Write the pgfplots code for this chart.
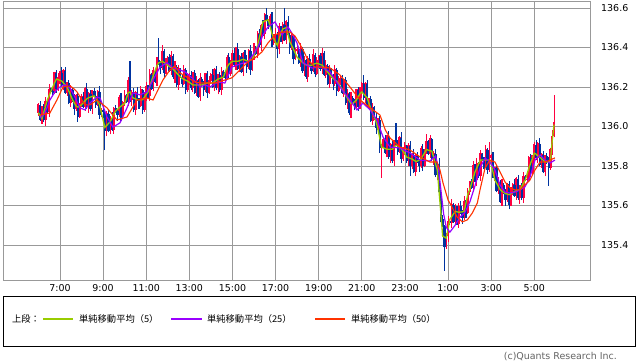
\documentclass[border=0pt]{standalone}
\usepackage{fontspec}
\setmainfont{DejaVu Sans}
\newfontfamily\cjk{Noto Sans CJK JP}
\usepackage{pgfplots}
\pgfplotsset{compat=1.18}
\usepackage{pgfplotstable}

\definecolor{barblue}{HTML}{0033A0}
\definecolor{barred}{HTML}{FF0040}
\definecolor{mafive}{HTML}{99CC00}
\definecolor{matwentyfive}{HTML}{9900FF}
\definecolor{mafifty}{HTML}{FF3300}
\definecolor{gridgray}{HTML}{999999}
\definecolor{copygray}{HTML}{646464}

\pgfplotstableread{
i o h l c m
0 136.070 136.120 136.055 136.110 136.070
1 136.110 136.130 136.030 136.035 136.055
2 136.035 136.105 136.015 136.100 136.040
3 136.100 136.115 136.022 136.032 136.072
4 136.032 136.148 136.002 136.123 136.103
5 136.123 136.133 136.065 136.075 136.135
6 136.075 136.217 136.050 136.187 136.157
7 136.187 136.197 136.174 136.179 136.179
8 136.179 136.199 136.155 136.170 136.200
9 136.170 136.275 136.165 136.270 136.220
10 136.270 136.285 136.170 136.190 136.240
11 136.190 136.272 136.180 136.247 136.237
12 136.247 136.283 136.217 136.273 136.233
13 136.273 136.303 136.200 136.210 136.230
14 136.210 136.290 136.185 136.280 136.220
15 136.280 136.300 136.165 136.170 136.210
16 136.170 136.225 136.155 136.220 136.200
17 136.220 136.235 136.113 136.118 136.178
18 136.118 136.212 136.098 136.187 136.157
19 136.187 136.197 136.125 136.135 136.135
20 136.135 136.165 136.059 136.089 136.119
21 136.089 136.163 136.079 136.153 136.103
22 136.153 136.173 136.023 136.048 136.098
23 136.048 136.119 136.043 136.114 136.104
24 136.114 136.165 136.099 136.150 136.110
25 136.150 136.175 136.095 136.100 136.120
26 136.100 136.200 136.080 136.190 136.130
27 136.190 136.220 136.090 136.100 136.140
28 136.100 136.176 136.070 136.166 136.146
29 136.166 136.186 136.079 136.089 136.149
30 136.089 136.187 136.064 136.182 136.152
31 136.182 136.197 136.150 136.155 136.155
32 136.155 136.180 136.095 136.110 136.140
33 136.110 136.185 136.105 136.175 136.125
34 136.175 136.205 136.040 136.060 136.110
35 136.060 136.092 136.050 136.082 136.072
36 136.082 136.102 136.043 136.073 136.033
37 136.073 136.078 135.880 135.975 135.995
38 135.975 136.080 135.950 136.065 136.005
39 136.065 136.090 135.970 135.975 136.015
40 135.975 136.055 135.960 136.045 136.025
41 136.045 136.075 135.978 135.983 136.043
42 135.983 136.101 135.963 136.091 136.061
43 136.091 136.111 136.068 136.078 136.078
44 136.078 136.083 136.027 136.057 136.087
45 136.057 136.160 136.047 136.145 136.095
46 136.145 136.170 136.028 136.053 136.103
47 136.053 136.131 136.048 136.121 136.111
48 136.121 136.185 136.106 136.155 136.115
49 136.155 136.165 136.118 136.123 136.143
50 136.123 136.251 136.103 136.231 136.171
51 136.231 136.330 136.125 136.135 136.175
52 136.135 136.185 136.105 136.170 136.150
53 136.170 136.195 136.073 136.083 136.143
54 136.083 136.180 136.058 136.170 136.140
55 136.170 136.200 136.131 136.136 136.136
56 136.136 136.146 136.090 136.105 136.135
57 136.105 136.205 136.100 136.185 136.135
58 136.185 136.190 136.065 136.085 136.135
59 136.085 136.173 136.075 136.158 136.148
60 136.158 136.227 136.128 136.202 136.162
61 136.202 136.212 136.145 136.155 136.175
62 136.155 136.293 136.130 136.263 136.203
63 136.263 136.273 136.187 136.192 136.232
64 136.192 136.300 136.177 136.280 136.260
65 136.280 136.285 136.219 136.224 136.284
66 136.224 136.353 136.204 136.338 136.308
67 136.338 136.450 136.312 136.322 136.322
68 136.322 136.332 136.266 136.296 136.326
69 136.296 136.410 136.286 136.380 136.330
70 136.380 136.390 136.248 136.273 136.323
71 136.273 136.347 136.268 136.327 136.317
72 136.327 136.355 136.312 136.350 136.310
73 136.350 136.365 136.278 136.283 136.303
74 136.283 136.382 136.263 136.357 136.297
75 136.357 136.367 136.240 136.250 136.290
76 136.250 136.330 136.220 136.300 136.280
77 136.300 136.310 136.200 136.210 136.270
78 136.210 136.310 136.185 136.290 136.260
79 136.290 136.295 136.247 136.252 136.252
80 136.252 136.267 136.199 136.214 136.244
81 136.214 136.313 136.209 136.288 136.238
82 136.288 136.298 136.164 136.184 136.234
83 136.184 136.270 136.174 136.240 136.230
84 136.240 136.273 136.210 136.263 136.223
85 136.263 136.283 136.187 136.197 136.217
86 136.197 136.275 136.172 136.270 136.210
87 136.270 136.285 136.165 136.170 136.210
88 136.170 136.255 136.155 136.230 136.210
89 136.230 136.240 136.145 136.150 136.210
90 136.150 136.270 136.130 136.240 136.210
91 136.240 136.250 136.200 136.210 136.210
92 136.210 136.230 136.153 136.183 136.213
93 136.183 136.272 136.173 136.267 136.217
94 136.267 136.282 136.145 136.170 136.220
95 136.170 136.255 136.165 136.230 136.220
96 136.230 136.270 136.215 136.260 136.220
97 136.260 136.290 136.195 136.200 136.220
98 136.200 136.297 136.180 136.287 136.227
99 136.287 136.307 136.183 136.193 136.233
100 136.193 136.265 136.163 136.260 136.240
101 136.260 136.275 136.173 136.183 136.243
102 136.183 136.302 136.158 136.277 136.247
103 136.277 136.287 136.245 136.250 136.250
104 136.250 136.280 136.230 136.245 136.275
105 136.245 136.360 136.240 136.350 136.300
106 136.350 136.370 136.245 136.265 136.315
107 136.265 136.338 136.255 136.333 136.323
108 136.333 136.385 136.303 136.370 136.330
109 136.370 136.395 136.300 136.310 136.330
110 136.310 136.400 136.285 136.390 136.330
111 136.390 136.420 136.285 136.290 136.330
112 136.290 136.363 136.275 136.353 136.333
113 136.353 136.373 136.272 136.277 136.337
114 136.277 136.375 136.257 136.370 136.340
115 136.370 136.385 136.326 136.336 136.336
116 136.336 136.361 136.272 136.302 136.332
117 136.302 136.393 136.292 136.383 136.333
118 136.383 136.413 136.262 136.287 136.337
119 136.287 136.360 136.282 136.350 136.340
120 136.350 136.420 136.335 136.400 136.360
121 136.400 136.405 136.360 136.365 136.385
122 136.365 136.485 136.345 136.470 136.410
123 136.470 136.495 136.400 136.410 136.450
124 136.410 136.520 136.380 136.510 136.490
125 136.510 136.540 136.460 136.470 136.530
126 136.470 136.573 136.445 136.563 136.533
127 136.563 136.600 136.532 136.537 136.537
128 136.537 136.542 136.495 136.510 136.540
129 136.510 136.570 136.505 136.555 136.505
130 136.555 136.580 136.400 136.420 136.470
131 136.420 136.466 136.410 136.456 136.446
132 136.456 136.496 136.426 136.466 136.426
133 136.466 136.476 136.345 136.390 136.410
134 136.390 136.522 136.365 136.502 136.442
135 136.502 136.507 136.429 136.434 136.474
136 136.434 136.528 136.419 136.513 136.493
137 136.513 136.600 136.432 136.437 136.497
138 136.437 136.540 136.417 136.530 136.500
139 136.530 136.560 136.453 136.463 136.463
140 136.463 136.473 136.367 136.397 136.427
141 136.397 136.480 136.387 136.460 136.410
142 136.460 136.465 136.315 136.340 136.390
143 136.340 136.395 136.335 136.380 136.370
144 136.380 136.415 136.365 136.390 136.350
145 136.390 136.400 136.317 136.322 136.342
146 136.322 136.424 136.302 136.394 136.334
147 136.394 136.404 136.273 136.283 136.323
148 136.283 136.357 136.253 136.337 136.317
149 136.337 136.342 136.241 136.251 136.311
150 136.251 136.355 136.226 136.340 136.310
151 136.340 136.365 136.305 136.310 136.310
152 136.310 136.320 136.265 136.280 136.310
153 136.280 136.394 136.275 136.364 136.314
154 136.364 136.374 136.248 136.268 136.318
155 136.268 136.350 136.258 136.330 136.320
156 136.330 136.362 136.300 136.357 136.317
157 136.357 136.372 136.283 136.293 136.313
158 136.293 136.395 136.268 136.370 136.310
159 136.370 136.380 136.253 136.258 136.298
160 136.258 136.336 136.243 136.306 136.286
161 136.306 136.316 136.210 136.215 136.275
162 136.215 136.313 136.195 136.293 136.263
163 136.293 136.298 136.243 136.253 136.253
164 136.253 136.268 136.183 136.213 136.243
165 136.213 136.310 136.203 136.285 136.235
166 136.285 136.295 136.155 136.180 136.230
167 136.180 136.257 136.175 136.227 136.217
168 136.227 136.253 136.212 136.243 136.203
169 136.243 136.263 136.165 136.170 136.190
170 136.170 136.239 136.150 136.234 136.174
171 136.234 136.249 136.108 136.118 136.158
172 136.118 136.188 136.088 136.163 136.143
173 136.163 136.173 136.060 136.070 136.130
174 136.070 136.176 136.045 136.146 136.116
175 136.146 136.156 136.112 136.117 136.117
176 136.117 136.137 136.081 136.096 136.126
177 136.096 136.189 136.091 136.184 136.134
178 136.184 136.199 136.080 136.100 136.150
179 136.100 136.201 136.090 136.176 136.166
180 136.176 136.225 136.146 136.215 136.175
181 136.215 136.260 136.135 136.145 136.165
182 136.145 136.225 136.120 136.215 136.155
183 136.215 136.235 136.100 136.105 136.145
184 136.105 136.142 136.090 136.137 136.117
185 136.137 136.152 136.024 136.029 136.089
186 136.029 136.121 136.009 136.096 136.066
187 136.096 136.106 136.035 136.045 136.045
188 136.045 136.075 135.963 135.993 136.023
189 135.993 136.045 135.983 136.035 135.985
190 136.035 136.055 135.865 135.890 135.940
191 135.890 135.910 135.740 135.905 135.895
192 135.905 135.947 135.890 135.932 135.892
193 135.932 135.957 135.863 135.868 135.888
194 135.868 135.955 135.848 135.945 135.885
195 135.945 135.975 135.835 135.845 135.885
196 135.845 135.915 135.815 135.905 135.885
197 135.905 135.925 135.815 135.825 135.885
198 135.825 135.930 135.800 135.925 135.895
199 135.925 136.020 135.900 135.905 135.905
200 135.905 135.930 135.857 135.872 135.902
201 135.872 135.954 135.867 135.944 135.894
202 135.944 135.974 135.816 135.836 135.886
203 135.836 135.895 135.826 135.885 135.875
204 135.885 135.920 135.855 135.900 135.860
205 135.900 135.905 135.815 135.825 135.845
206 135.825 135.917 135.800 135.902 135.842
207 135.902 135.927 135.750 135.798 135.838
208 135.798 135.865 135.783 135.855 135.835
209 135.855 135.885 135.764 135.769 135.829
210 135.769 135.863 135.749 135.853 135.823
211 135.853 135.873 135.815 135.825 135.825
212 135.825 135.830 135.770 135.800 135.830
213 135.800 135.900 135.790 135.885 135.835
214 135.885 135.910 135.777 135.802 135.852
215 135.802 135.888 135.797 135.878 135.868
216 135.878 135.960 135.863 135.924 135.884
217 135.924 135.934 135.855 135.860 135.880
218 135.860 135.957 135.840 135.937 135.877
219 135.937 135.942 135.825 135.835 135.875
220 135.835 135.878 135.805 135.863 135.843
221 135.863 135.888 135.742 135.752 135.812
222 135.752 135.820 135.727 135.810 135.780
223 135.810 135.840 135.665 135.670 135.670
224 135.670 135.680 135.515 135.530 135.560
225 135.530 135.550 135.490 135.495 135.445
226 135.495 135.500 135.270 135.390 135.440
227 135.390 135.460 135.380 135.445 135.435
228 135.445 135.545 135.415 135.520 135.480
229 135.520 135.530 135.500 135.510 135.530
230 135.510 135.633 135.485 135.603 135.543
231 135.603 135.613 135.512 135.517 135.557
232 135.517 135.610 135.502 135.590 135.570
233 135.590 135.595 135.503 135.508 135.568
234 135.508 135.611 135.488 135.596 135.566
235 135.596 135.621 135.557 135.567 135.567
236 135.567 135.577 135.508 135.538 135.568
237 135.538 135.650 135.528 135.620 135.570
238 135.620 135.630 135.539 135.564 135.614
239 135.564 135.688 135.559 135.668 135.658
240 135.668 135.725 135.653 135.720 135.680
241 135.720 135.735 135.685 135.690 135.710
242 135.690 135.825 135.670 135.800 135.740
243 135.800 135.810 135.720 135.730 135.770
244 135.730 135.840 135.700 135.810 135.790
245 135.810 135.820 135.740 135.750 135.810
246 135.750 135.880 135.725 135.860 135.830
247 135.860 135.865 135.825 135.830 135.830
248 135.830 135.845 135.785 135.800 135.830
249 135.800 135.905 135.795 135.880 135.830
250 135.880 135.890 135.760 135.780 135.830
251 135.780 135.920 135.770 135.840 135.830
252 135.840 135.860 135.810 135.850 135.810
253 135.850 135.870 135.740 135.750 135.770
254 135.750 135.795 135.725 135.790 135.730
255 135.790 135.805 135.668 135.673 135.713
256 135.673 135.742 135.658 135.717 135.697
257 135.717 135.727 135.615 135.620 135.680
258 135.620 135.732 135.600 135.702 135.672
259 135.702 135.712 135.656 135.666 135.666
260 135.666 135.686 135.600 135.630 135.660
261 135.630 135.713 135.620 135.708 135.658
262 135.708 135.723 135.580 135.605 135.655
263 135.605 135.695 135.600 135.670 135.660
264 135.670 135.715 135.655 135.705 135.665
265 135.705 135.735 135.645 135.650 135.670
266 135.650 135.745 135.630 135.735 135.675
267 135.735 135.755 135.628 135.638 135.678
268 135.638 135.705 135.608 135.700 135.680
269 135.700 135.715 135.627 135.637 135.697
270 135.637 135.768 135.612 135.743 135.713
271 135.743 135.753 135.725 135.730 135.730
272 135.730 135.760 135.715 135.730 135.760
273 135.730 135.850 135.725 135.840 135.790
274 135.840 135.860 135.745 135.765 135.815
275 135.765 135.855 135.755 135.850 135.840
276 135.850 135.920 135.820 135.905 135.865
277 135.905 135.930 135.830 135.840 135.860
278 135.840 135.920 135.815 135.910 135.850
279 135.910 135.940 135.800 135.805 135.845
280 135.805 135.867 135.790 135.857 135.837
281 135.857 135.877 135.764 135.769 135.829
282 135.769 135.855 135.749 135.850 135.820
283 135.850 135.865 135.810 135.820 135.820
284 135.820 135.845 135.700 135.790 135.820
285 135.790 135.890 135.780 135.880 135.830
286 135.880 135.980 135.855 135.950 135.930
287 135.950 136.160 135.945 136.020 136.010
}\bars

\pgfplotsset{
  candle/.style 2 args={draw=none, no markers,
    error bars/.cd, y dir=plus, y explicit, error mark=none,
    error bar style={draw=#1, solid, line width=#2}},
}

\begin{document}
\begin{tikzpicture}
\useasboundingbox[fill=white] (-3bp,-82bp) rectangle (635bp,280bp);
\begin{axis}[
  at={(0,0)}, anchor=south west,
  scale only axis, width=587bp, height=279bp,
  xmin=-19.7, xmax=307, ymin=135.223, ymax=136.635,
  axis line style={gridgray, line width=0.8bp},
  grid=major, grid style={gridgray, line width=0.8bp},
  major tick length=0pt,
  xtick={12,36,60,84,108,132,156,180,204,228,252,276},
  xticklabels={7:00,9:00,11:00,13:00,15:00,17:00,19:00,21:00,23:00,1:00,3:00,5:00},
  ytick={135.4,135.6,135.8,136.0,136.2,136.4,136.6},
  yticklabel pos=right,
  /pgf/number format/assume math mode=true,
  tick label style={font=\fontsize{9.5}{11}\selectfont, black},
  xticklabel style={anchor=north, inner sep=0pt, yshift=-4bp},
  yticklabel style={anchor=west, inner sep=0pt, xshift=11bp,
    /pgf/number format/fixed, /pgf/number format/fixed zerofill,
    /pgf/number format/precision=1},
]
% up bars (red): wicks and bodies
\addplot[restrict expr to domain={\thisrow{c}-\thisrow{o}}{0:1},
  candle={barred}{1.1bp}]
  table[x=i, y=l, y error plus expr={\thisrow{h}-\thisrow{l}}] {\bars};
\addplot[restrict expr to domain={\thisrow{c}-\thisrow{o}}{0:1},
  candle={barred}{2.2bp}]
  table[x=i, y=o, y error plus expr={\thisrow{c}-\thisrow{o}+0.004}] {\bars};
% down bars (blue)
\addplot[restrict expr to domain={\thisrow{c}-\thisrow{o}}{-1:-0.0001},
  candle={barblue}{1.1bp}]
  table[x=i, y=l, y error plus expr={\thisrow{h}-\thisrow{l}}] {\bars};
\addplot[restrict expr to domain={\thisrow{c}-\thisrow{o}}{-1:-0.0001},
  candle={barblue}{2.2bp}]
  table[x=i, y=c, y error plus expr={\thisrow{o}-\thisrow{c}}] {\bars};
% MA 5
\addplot[draw=mafive, line width=1.3bp, no markers] table[x=i, y=m] {\bars};
% MA 25
\addplot[draw=matwentyfive, line width=1.2bp, no markers] coordinates {
(0.9,136.043) (3.65,136.068) (6.4,136.134) (9.2,136.175) (12,136.2) (14.8,136.21)
(17.6,136.195) (20.3,136.149) (23.1,136.094) (25.9,136.084) (28.7,136.119)
(32.6,136.149) (34.3,136.144) (38.2,136.048) (41.5,135.997) (45.4,136.018)
(49.3,136.094) (52.6,136.17) (56.5,136.16) (60.4,136.175) (63.8,136.235)
(67.7,136.301) (71.6,136.322) (74.9,136.296) (78.8,136.286) (81.6,136.276)
(85.5,136.246) (89.9,136.2) (92.7,136.21) (95.5,136.2) (99.9,136.225)
(103.8,136.22) (107.7,136.301) (112.2,136.316) (116.6,136.327) (119.4,136.362)
(122.2,136.403) (125,136.463) (127.8,136.504) (131.7,136.529) (135.6,136.463)
(138.9,136.504) (141.7,136.463) (143.9,136.423) (147.3,136.322) (152.3,136.296)
(157.8,136.301) (162.3,136.276) (167.8,136.2) (173.4,136.134) (177.3,136.084)
(180.6,136.119) (184.6,136.084) (188.4,136.033) (191.8,135.947) (195.7,135.896)
(201.2,135.891) (206.8,135.866) (212.4,135.83) (217.9,135.825) (221,135.85)
(222.5,135.80) (224,135.68) (225.5,135.56) (227,135.49) (229,135.465)
(231.9,135.50) (234.6,135.54) (237.4,135.565) (240.2,135.62) (243,135.70)
(245.8,135.79) (248.6,135.84) (251.3,135.82) (254.1,135.78) (256.9,135.704)
(259.7,135.668) (262.5,135.663) (265.3,135.668) (268,135.679) (270.8,135.694)
(273.6,135.744) (276.4,135.83) (279.2,135.856) (282,135.83) (284.7,135.815)
(287.5,135.83)
};
% MA 50
\addplot[draw=mafifty, line width=1.1bp, no markers] coordinates {
(0.9,136.058) (6.4,136.068) (10.3,136.134) (13.7,136.2) (17.6,136.205)
(19.2,136.195) (21.5,136.175) (25.9,136.109) (28.7,136.109) (32.6,136.134)
(38.2,136.094) (43.7,136.033) (49.3,136.048) (54.9,136.134) (60.4,136.144)
(63.8,136.134) (69.3,136.235) (73.2,136.286) (76,136.306) (78.8,136.271)
(87.1,136.225) (89.9,136.22) (98.3,136.22) (107.7,136.246) (112.2,136.286)
(116.6,136.327) (120.5,136.347) (124.4,136.377) (127.8,136.423) (131.7,136.463)
(135.6,136.478) (140,136.478) (142.8,136.458) (146.7,136.398) (150,136.337)
(153.9,136.301) (156.7,136.301) (162.3,136.296) (167.8,136.261) (173.4,136.2)
(179,136.134) (186.2,136.084) (190.1,136.058) (193.1,135.982) (195.7,135.942)
(201.2,135.896) (206.8,135.881) (212.4,135.846) (217.9,135.82) (221.8,135.82)
(223.5,135.78) (225.2,135.714) (228,135.628) (230.2,135.592) (233,135.542)
(235.9,135.517) (238.7,135.527) (241.5,135.562) (244.3,135.613) (245.8,135.68)
(248.6,135.79) (251.3,135.83) (254.1,135.82) (256.9,135.77) (259.7,135.719)
(262.5,135.689) (265.3,135.679) (268,135.679) (270.8,135.704) (273.6,135.729)
(276.4,135.78) (279.2,135.82) (282,135.82) (284.7,135.83) (287.5,135.841)
};
\end{axis}
% legend box
\draw[black, line width=0.9bp] (0bp,-16bp) rectangle (632bp,-66bp);
\node[anchor=west, inner sep=0pt, font=\cjk\fontsize{9.3}{11}\selectfont] at (9bp,-39bp) {上段：};
\draw[draw=mafive, line width=1.1bp] (40bp,-39bp) -- (70bp,-39bp);
\node[anchor=west, inner sep=0pt, font=\cjk\fontsize{9.3}{11}\selectfont] at (76bp,-39bp) {単純移動平均（5）};
\draw[draw=matwentyfive, line width=1.1bp] (168bp,-39bp) -- (199bp,-39bp);
\node[anchor=west, inner sep=0pt, font=\cjk\fontsize{9.3}{11}\selectfont] at (204bp,-39bp) {単純移動平均（25）};
\draw[draw=mafifty, line width=1.1bp] (312bp,-39bp) -- (342bp,-39bp);
\node[anchor=west, inner sep=0pt, font=\cjk\fontsize{9.3}{11}\selectfont] at (348bp,-39bp) {単純移動平均（50）};
\node[anchor=east, inner sep=0pt, text=copygray, font=\fontsize{9.5}{11}\selectfont] at (614bp,-77bp) {(c)Quants Research Inc.};
\end{tikzpicture}
\end{document}
